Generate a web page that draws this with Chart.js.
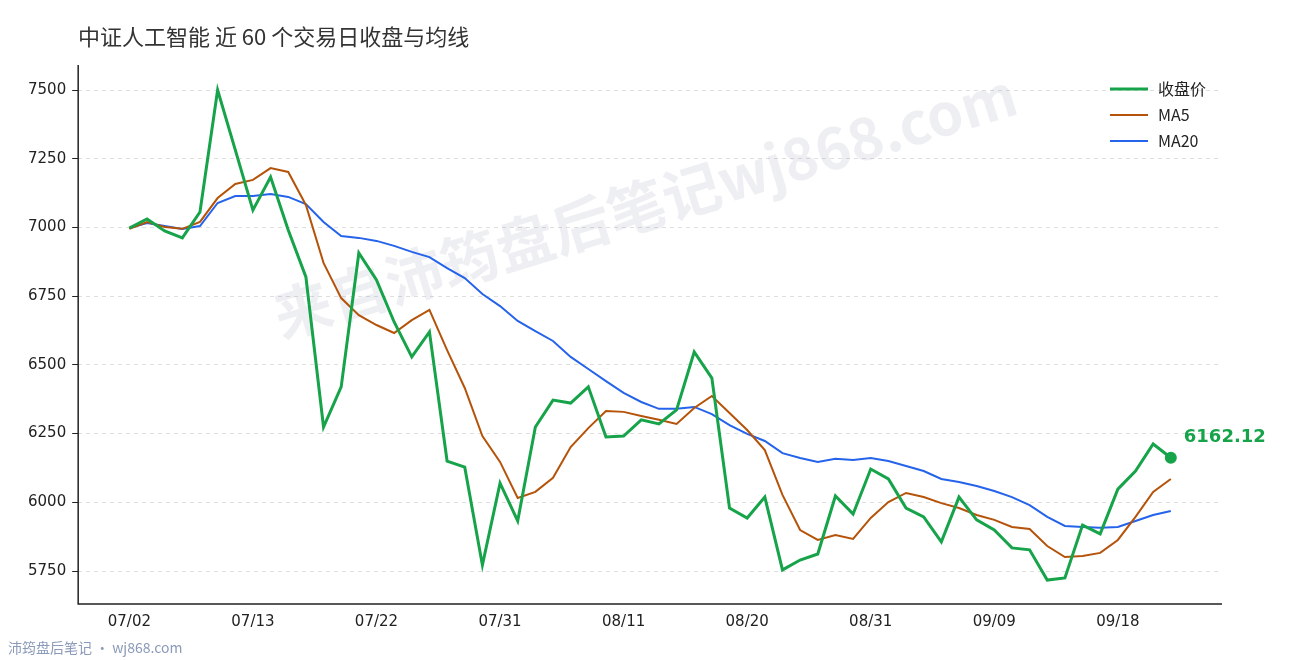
<!DOCTYPE html>
<html><head><meta charset="utf-8">
<script src="https://cdn.jsdelivr.net/npm/chart.js@4/dist/chart.umd.min.js"></script>
<style>
html,body{margin:0;padding:0;background:#fff;}
#wrap{position:relative;width:1290px;height:660px;}
</style></head>
<body><div id="wrap"><canvas id="c" width="1290" height="660"></canvas></div>
<script>
// ---------- Data ----------
const tickLabels = ['07/02','07/13','07/22','07/31','08/11','08/20','08/31','09/09','09/18'];
const yTicks = [5750,6000,6250,6500,6750,7000,7250,7500];
const closes = [6998,7031,6987,6962,7056,7500,7282,7063,7183,6991,6820,6274,6420,6907,6809,6656,6529,6620,6150,6128,
  5772,6070,5932,6274,6372,6361,6420,6238,6241,6300,6285,6336,6547,6452,5979,5943,6019,5754,5790,5812,
  6023,5957,6121,6085,5979,5947,5856,6019,5936,5899,5834,5827,5717,5725,5917,5885,6048,6114,6212,6162.12];
const ma5 = [6995,7020,7002,6995,7020,7107,7158,7173,7216,7202,7082,6871,6743,6681,6645,6616,6663,6700,6554,6416,
  6241,6147,6016,6038,6089,6201,6270,6332,6329,6314,6300,6285,6343,6387,6325,6263,6190,6027,5899,5863,
  5881,5867,5943,6001,6034,6019,5997,5979,5954,5936,5910,5903,5841,5801,5805,5816,5863,5947,6038,6085];
const ma20 = [6998,7016,7005,6994,7005,7089,7114,7114,7122,7111,7085,7020,6969,6962,6951,6933,6911,6892,6852,6816,
  6758,6714,6660,6623,6587,6529,6485,6441,6398,6365,6340,6340,6347,6321,6281,6249,6223,6179,6161,6147,
  6158,6154,6161,6150,6132,6114,6085,6074,6059,6041,6019,5990,5947,5914,5910,5907,5910,5932,5954,5968];
const TICK_EVERY = 7;

const GREEN = '#16a34a', ORANGE = '#b45309', BLUE = '#2563eb';
const pts = arr => arr.map((v,i) => ({x:i, y:v}));

// ---------- Plugins ----------
const decor = {
  id:'decor',
  beforeDatasetsDraw(chart){
    const {ctx} = chart;
    ctx.save();
    ctx.translate(645,205);
    ctx.rotate(-17*Math.PI/180);
    ctx.font = 'bold 58px "Noto Sans CJK SC"';
    ctx.fillStyle = 'rgba(150,155,180,0.16)';
    ctx.textAlign = 'center'; ctx.textBaseline = 'middle';
    ctx.fillText('来自沛筠盘后笔记wj868.com', 0, 0);
    ctx.restore();
  },
  afterDraw(chart){
    const {ctx, chartArea:a} = chart;
    const xs = chart.scales.x, ys = chart.scales.y;
    ctx.save();
    // axis lines (left + bottom, solid)
    ctx.strokeStyle = '#222'; ctx.lineWidth = 1.5;
    ctx.beginPath(); ctx.moveTo(a.left, a.top); ctx.lineTo(a.left, a.bottom); ctx.lineTo(a.right, a.bottom); ctx.stroke();
    // title
    ctx.font = '22px "Noto Sans CJK SC"';
    ctx.fillStyle = '#333';
    ctx.textBaseline = 'middle';
    ctx.fillText('中证人工智能 近 60 个交易日收盘与均线', 78, 37);
    // footer
    ctx.font = '14px "Noto Sans CJK SC"';
    ctx.fillStyle = '#8a9ab8';
    ctx.fillText('沛筠盘后笔记 · wj868.com', 8, 648);
    // last point
    const li = closes.length - 1;
    const px = xs.getPixelForValue(li), py = ys.getPixelForValue(closes[li]);
    ctx.fillStyle = GREEN;
    ctx.beginPath(); ctx.arc(px, py, 6, 0, Math.PI*2); ctx.fill();
    ctx.font = 'bold 18px "DejaVu Sans"';
    ctx.fillText(closes[li].toFixed(2), px + 13, py - 20);
    // legend
    const items = [['收盘价',GREEN,3],['MA5',ORANGE,2],['MA20',BLUE,2]];
    ctx.font = '16px "Noto Sans CJK SC"';
    items.forEach((it,k) => {
      const y = 89 + k*26;
      ctx.strokeStyle = it[1]; ctx.lineWidth = it[2];
      ctx.beginPath(); ctx.moveTo(1110,y); ctx.lineTo(1148,y); ctx.stroke();
      ctx.fillStyle = '#222';
      ctx.fillText(it[0], 1158, y);
    });
    ctx.restore();
  }
};

// ---------- Chart ----------
new Chart(document.getElementById('c'), {
  type:'line',
  data:{ datasets:[
    {data:pts(closes), borderColor:GREEN, borderWidth:3, pointRadius:0, tension:0},
    {data:pts(ma5), borderColor:ORANGE, borderWidth:2, pointRadius:0, tension:0},
    {data:pts(ma20), borderColor:BLUE, borderWidth:2, pointRadius:0, tension:0}
  ]},
  options:{
    responsive:false, animation:false, devicePixelRatio:1,
    layout:{padding:{left:22,right:68,top:65,bottom:26}},
    plugins:{legend:{display:false}, tooltip:{enabled:false}},
    scales:{
      x:{type:'linear', min:-2.9, max:61.9,
        afterBuildTicks: s => { s.ticks = tickLabels.map((_,k) => ({value:k*TICK_EVERY})); },
        ticks:{callback:v => tickLabels[v/TICK_EVERY] ?? '', color:'#222', font:{size:15,family:'DejaVu Sans'}, maxRotation:0, autoSkip:false},
        grid:{display:false, drawTicks:true, tickLength:6, tickColor:'#222'},
        border:{display:false}
      },
      y:{min:5630, max:7591,
        afterBuildTicks: s => { s.ticks = yTicks.map(v => ({value:v})); },
        ticks:{callback:v => String(v), color:'#222', font:{size:15,family:'DejaVu Sans'}, padding:6},
        grid:{color:'#dedede', tickLength:6, tickColor:'#222'},
        border:{display:false, dash:[4,4]}
      }
    }
  },
  plugins:[decor]
});
</script></body></html>
